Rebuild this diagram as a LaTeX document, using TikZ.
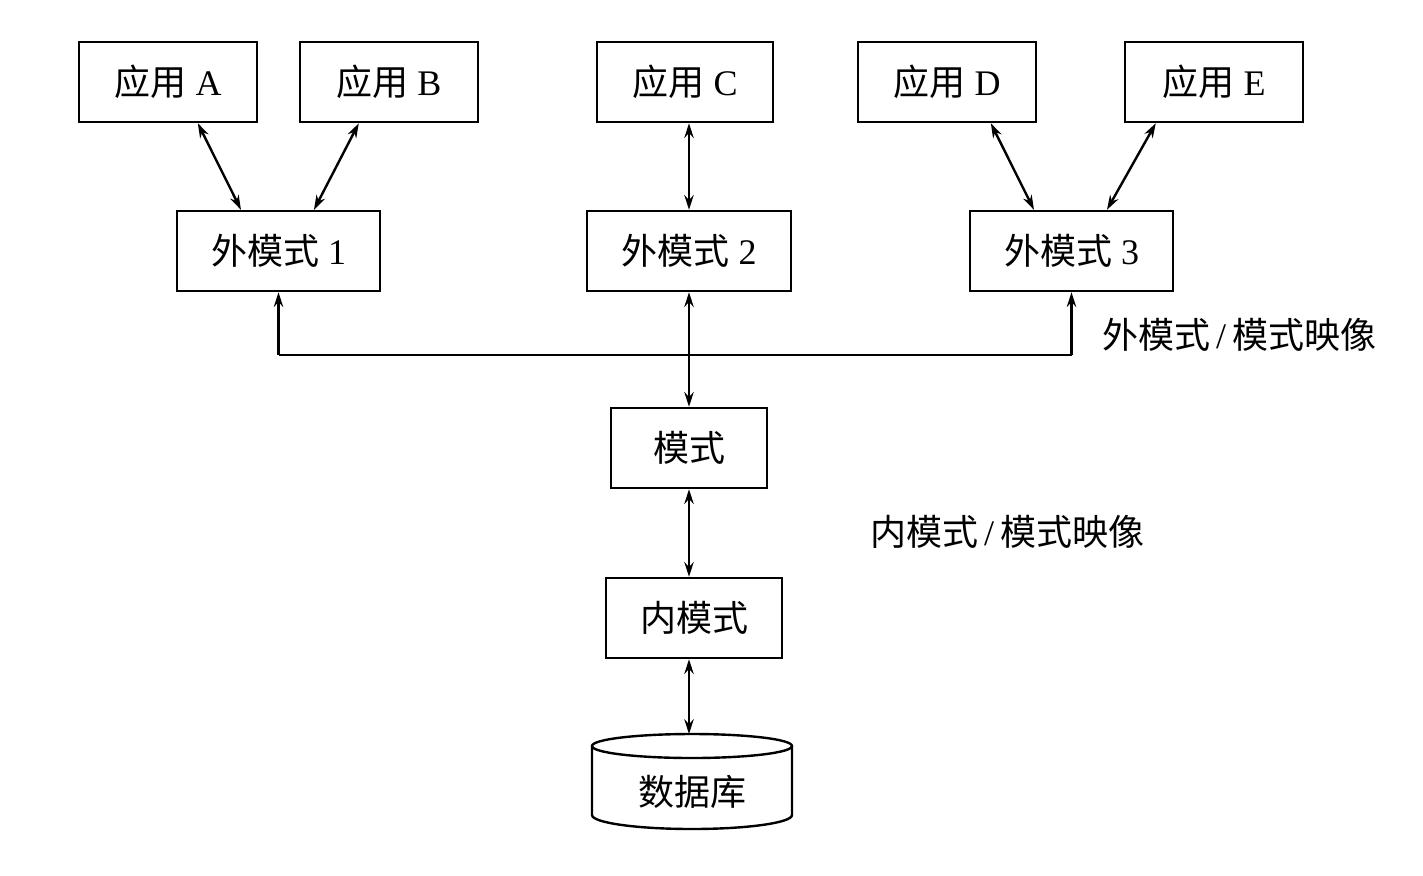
\documentclass[tikz,border=0pt]{standalone}
\usepackage{fontspec}
\setmainfont{Liberation Serif}
\newfontfamily\cjk{Noto Sans CJK SC}
\usetikzlibrary{arrows.meta,calc}
\begin{document}
\begin{tikzpicture}[x=0.75pt,y=-0.75pt,
  box/.style={draw,line width=1.8pt,minimum height=60pt,minimum width=#1,inner sep=0pt,font=\fontsize{27}{30}\selectfont},
  lab/.style={inner sep=0pt,font=\fontsize{27}{30}\selectfont},
  link/.style={line width=1.8pt,{Stealth[length=11pt,width=7pt]}-{Stealth[length=11pt,width=7pt]}},
  up/.style={line width=1.8pt,-{Stealth[length=11pt,width=7pt]}},
  wire/.style={line width=1.8pt}]
\fill[white] (0,0) rectangle (1423,875);
\useasboundingbox (0,0) rectangle (1423,875);
% applications
\node[box=133.5pt] (A) at (168,82) {{\cjk 应用} A};
\node[box=133.5pt] (B) at (389,82) {{\cjk 应用} B};
\node[box=132pt] (C) at (685,82) {{\cjk 应用} C};
\node[box=133.5pt] (D) at (947,82) {{\cjk 应用} D};
\node[box=133.5pt] (E) at (1214,82) {{\cjk 应用} E};
% external schemas
\node[box=152pt] (E1) at (278.5,251) {{\cjk 外模式} 1};
\node[box=153pt] (E2) at (689,251) {{\cjk 外模式} 2};
\node[box=152pt] (E3) at (1071.5,251) {{\cjk 外模式} 3};
% schema, internal schema
\node[box=117pt] (M) at (689,448) {\cjk 模式};
\node[box=132pt] (I) at (694,618) {\cjk 内模式};
% database
\node[lab] (DB) at (692,792) {\cjk 数据库};
\coordinate (dbtop) at (692,734);
\draw[wire] (692,746) ellipse [x radius=75pt,y radius=9pt];
\draw[wire] (592,746) -- (592,815) arc[start angle=180,end angle=360,x radius=75pt,y radius=10.5pt] -- (792,746);
% labels
\node[lab] (L1) at (1239,335) {{\cjk 外模式}\,/\,{\cjk 模式映像}};
\node[lab] (L2) at (1007,532) {{\cjk 内模式}\,/\,{\cjk 模式映像}};
% app <-> external
\draw[link] ($(A.south west)+(120,0)$) -- ($(E1.north west)+(65,0)$);
\draw[link] ($(B.south west)+(60,0)$) -- ($(E1.north west)+(138,0)$);
\draw[link] (C.south -| E2.north) -- (E2.north);
\draw[link] ($(D.south west)+(134,0)$) -- ($(E3.north west)+(65,0)$);
\draw[link] ($(E.south west)+(32,0)$) -- ($(E3.north west)+(138,0)$);
% bus
\coordinate (bus) at (0,355);
\draw[wire] (E1.south |- bus) -- (E3.south |- bus);
\draw[up] (E1.south |- bus) -- (E1.south);
\draw[up] (E3.south |- bus) -- (E3.south);
\draw[link] (E2.south) -- (M.north);
\draw[link] (M.south) -- (M.south |- I.north);
\draw[link] (I.south -| M.south) -- (dbtop -| M.south);
\end{tikzpicture}
\end{document}
